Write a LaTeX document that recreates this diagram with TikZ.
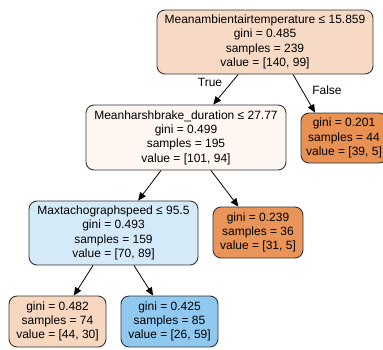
\documentclass[tikz,border=0pt]{standalone}
\usepackage{fontspec}
\setmainfont{Liberation Sans}
\usetikzlibrary{arrows.meta}
\definecolor{cRoot}{HTML}{F7DAC5}
\definecolor{cTwo}{HTML}{FDF6F1}
\definecolor{cThree}{HTML}{D5EAF9}
\definecolor{cLA}{HTML}{E89152}
\definecolor{cLB}{HTML}{E99559}
\definecolor{cLC}{HTML}{F7D7C0}
\definecolor{cLD}{HTML}{90C8F0}
\tikzset{
  treebox/.style={draw=black!80, line width=0.9pt, rounded corners=8pt, align=center,
    font=\fontsize{12}{14.3}\selectfont, inner sep=0pt},
  edge/.style={line width=0.8pt, -{Triangle[length=8pt,width=7pt]}},
  elabel/.style={font=\fontsize{12}{13}\selectfont}
}
\begin{document}
\begin{tikzpicture}[x=1pt,y=-1pt]
\useasboundingbox (0,0) rectangle (383,349);
\clip (0,0) rectangle (383,349);
\node[treebox, fill=cRoot, minimum width=216pt, minimum height=64pt] (root) at (265,42)
  {Meanambientairtemperature ≤ 15.859\\gini = 0.485\\samples = 239\\value = [140, 99]};
\node[treebox, fill=cTwo, minimum width=200pt, minimum height=65pt] (n2) at (186,137.5)
  {Meanharshbrake\_duration ≤ 27.77\\gini = 0.499\\samples = 195\\value = [101, 94]};
\node[treebox, fill=cLA, minimum width=86pt, minimum height=50pt] (la) at (344,138)
  {gini = 0.201\\samples = 44\\value = [39, 5]};
\node[treebox, fill=cThree, minimum width=169pt, minimum height=64pt] (n3) at (113.5,233)
  {Maxtachographspeed ≤ 95.5\\gini = 0.493\\samples = 159\\value = [70, 89]};
\node[treebox, fill=cLB, minimum width=90pt, minimum height=51pt] (lb) at (258,232.5)
  {gini = 0.239\\samples = 36\\value = [31, 5]};
\node[treebox, fill=cLC, minimum width=97pt, minimum height=51pt] (lc) at (57.5,321.5)
  {gini = 0.482\\samples = 74\\value = [44, 30]};
\node[treebox, fill=cLD, minimum width=97pt, minimum height=51pt] (ld) at (169.5,321.5)
  {gini = 0.425\\samples = 85\\value = [26, 59]};
\draw[edge] (root) -- (n2);
\draw[edge] ([xshift=28pt]root.south) -- ([xshift=-29pt]la.north);
\draw[edge] (n2) -- (n3);
\draw[edge] (n2) -- (lb);
\draw[edge] (n3) -- (lc);
\draw[edge] (n3) -- (ld);
\node[elabel] (t) at (210,82) {True};
\node[elabel] (f) at (327,90) {False};
\end{tikzpicture}
\end{document}
